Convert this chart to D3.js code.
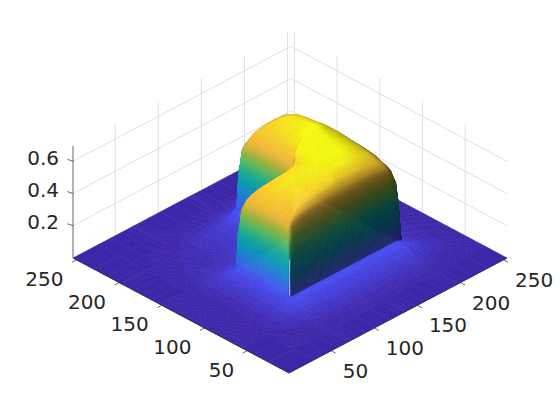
<!DOCTYPE html>
<html>
<head>
<meta charset="utf-8">
<script src="https://cdn.jsdelivr.net/npm/d3@7"></script>
<style>
html, body { margin: 0; padding: 0; background: #fff; }
text { font-family: "DejaVu Sans", sans-serif; font-size: 20px; fill: #262626; }
</style>
</head>
<body>
<svg id="plot" width="560" height="420"></svg>
<script>
// tick labels
var xyTicks = [50, 100, 150, 200, 250];
var zTicks = [0.2, 0.4, 0.6];

// grid nodes of the surface, closer together where the walls are
var xNodes = [1,30,45,57,65,69, 70,71,73,76,81,90,102,118,130,135, 136,137,139,142,148,158,170,182,189,193,196,197,198, 199,204,215,232,254];
var yNodes = [1,25,42,55,64,69,70,71,73,76,81,90,102,116,126,129,131,132,133,134,136,139,144,152,162,172,182,190,195,197,198,199,204,214,230,254];

// heights, one row per yNodes entry, multiplied by zUnit below
var zRows = [
[0,0,0,0,0,0, 0,0,0,0,0,0,0,0,0,0, 0,0,0,0,0,0,0,0,0,0,0,0,0, 0,0,0,0,0],
[0,0,0,0,0,0, 0,0,0,0,0,0,0,0,0,0, 0,0,0,0,0,0,0,0,0,0,0,0,0, 0,0,0,0,0],
[0,0,0.5,1,1.5,2, 2,2,2,2,2,2,2.5,2.5,2.5,2.5, 2.5,2.5,2.5,2.5,2.5,2.5,2.5,2.5,2.5,2.5,2,2,2, 2,1.5,1,0.5,0],
[0,0,1.5,3,4,4.5, 4.5,4.5,4.5,4.5,4.5,4.5,5,5,5,5, 5,5,5,5,5,5,5,5,5,4.5,4.5,4.5,4.5, 4,3.5,2.5,1,0],
[0,0.5,2,4,6,7, 7,7,7,7,7,7,7,7,7,7, 7,7,7,7,7,7,7,7,7,7,7,6.5,6.5, 6,5,3,1,0],
[0,0.5,2,4,6.5,8, 9,8.5,8.5,8.5,8.5,8.5,8.5,8.5,8.5,8.5, 8.5,8.5,8.5,8.5,8.5,8.5,8.5,8.5,8.5,8.5,8,7.5,7.5, 7,5.5,3,1,0],
[0,0.5,2,4,6.5,8, 19,22,22,22,22,22,22,22,22,22, 22,22,22,22,22,22,22,22,22,22,21,20,18, 6,4.5,2.5,1,0],
[0,0.5,2,4,6.5,8, 22,33,36,36,36,36,36,36,36,36, 36,36,36,36,36,36,36,36,36,36,35,32,20, 6,4.5,2.5,1,0],
[0,0.5,2,4,6.5,8, 22,36,46,48,49,50,50,50,50,50, 50,50,50,50,50,50,50,49.5,49,48,44,35,21, 6,4.5,2.5,1,0],
[0,0.5,2,4,6.5,8, 22,36,48,52,53.5,54.8,55.5,56,56,56, 56,56,56,56,56,56,55.5,55,53.5,51.5,45,35.5,22, 6,4.5,2.5,1,0],
[0,0.5,2,4,6.5,8, 22,36,49,53.5,56,57.8,58.8,59.5,60,60, 60,60,60,60,60,60,59.5,58,56,53,45.5,36,22, 6,4.5,2.5,1,0],
[0,0.5,2,4,6.5,8, 22,36,50,54.8,57.8,60.5,62.2,63,63.5,64, 64,64,64,64,64,64,63,61,58,54,46,36,22, 6,4.5,2.5,1,0],
[0,0.5,2,4,6.5,8, 22,36,50,55,58.5,62,63.7,64.5,65.5,66, 66.5,66.5,67,67,67.5,67.5,66,62.5,59,54.5,46,36,22, 6,4.5,2.5,1,0],
[0,0.5,2,4,6.5,8, 22,36,49.5,54.5,57.5,60,61.5,62,62.5,64, 66,66.5,67.5,68.5,69.5,70,67.5,64,59.5,55,46,36,22, 6,4.5,2.5,1,0],
[0,0.5,2,4,6.5,8, 22,35.5,48,52,53.5,55,55.5,56,58,62, 64.5,65.5,66.5,68,70,71,68.5,64.5,60,55,46,36,22, 6,4.5,2.5,1,0],
[0,0.5,2,4,6.5,8, 21,34.5,46,48,49,50,50,51,54,59, 62.5,64,65.5,67.5,70,71,68.5,64.5,60,55,46,36,22, 6,4.5,2.5,1,0],
[0,0.5,2,4,6.5,8, 19,32,35,36,36,36,37,39,44,52, 60,62.5,64.5,67,69.5,71,68.5,64.5,60,55,46,36,22, 6,4.5,2.5,1,0],
[0,0.5,2,4,6.5,8, 13,19,21,22,22,22,23,25,29,38, 55,60,63,66,69,71,68.5,64.5,60,55,46,36,22, 6,4.5,2.5,1,0],
[0,0.5,2,4,6.5,8, 9,9,9,9,9,9,9,9,10,12, 40,52,60,65,69,71,68.5,64.5,60,55,46,36,22, 6,4.5,2.5,1,0],
[0,0.5,2,4,6,7.5, 8.5,8.5,8.5,8.5,8.5,8.5,8.5,8.5,9.5,11.5, 28,42,54,61,67,70.5,68.5,64.5,60,55,46,36,22, 6,4.5,2.5,1,0],
[0,0.5,2,4,6,7, 7,7,7,7,7,7,7,8,9,11, 22,37,51,58,64.5,69.5,68.5,64.5,60,55,46,36,22, 6,4.5,2.5,1,0],
[0,0.5,2,3.5,5,6, 6,6,6,6,6,6,6.5,7,8.5,10, 22,36,50,57,63,68,68,64.5,60,55,46,36,22, 6,4.5,2.5,1,0],
[0,0.5,2,3.5,4,4.5, 4.5,4.5,4.5,4.5,4.5,4.5,5,6,8,10, 22,36,50,56,62,66.5,67.5,64.5,60,55,46,36,22, 6,4.5,2.5,1,0],
[0,0,1.5,2.5,3,3, 3,3,3,3,3,3.5,4,5.5,8,10, 22,36,50,56,60.5,64,65.5,63.5,59.5,55,46,36,22, 6,4.5,2.5,1,0],
[0,0,1,2,2,2, 2,2,2,2,2.5,3,3.5,5,8,10, 22,36,50,55.5,59.7,63,64,63,59,54.5,46,36,22, 6,4.5,2.5,1,0],
[0,0,1,1.5,2,2, 2,2,2,2,2,2.5,3.5,5,8,10, 22,36,49.5,55,59,62,63,62,58.5,54,46,36,22, 6,4.5,2.5,1,0],
[0,0,0.5,1,1.5,1.5, 1.5,1.5,1.5,1.5,2,2.5,3.5,5,8,10, 22,36,49,54,57.5,59.5,60.5,59.5,57,53.5,45.5,36,22, 6,4.5,2.5,1,0],
[0,0,0.5,1,1,1.5, 1.5,1.5,1.5,2,2,2.5,3.5,5,8,10, 21,35.5,48.5,53,55.5,56.5,57,56.5,55,52,45.5,35.5,21, 6,4.5,2.5,1,0],
[0,0,0.5,1,1,1.5, 1.5,1.5,1.5,2,2,2.5,3.5,5,8,9.5, 21,35,46,48,49,49.5,49.7,49.5,49,48,44,35,21, 6,4.5,2.5,1,0],
[0,0,0.5,1,1,1.5, 1.5,1.5,1.5,2,2,2.5,3.5,5,8,9.5, 19,32,35,36,36,36,36,36,36,36,35,32,19, 6,4.5,2.5,1,0],
[0,0,0.5,1,1,1.5, 1.5,1.5,1.5,2,2,2.5,3.5,5,8,9.5, 13,19,21,22,22,22,22,22,22,22,21,19,13, 6,4.5,2.5,1,0],
[0,0,0,0.5,1,1, 1,1,1.5,1.5,2,2.5,3,4,6,7, 6,6,6,6,6,6,6,6,6,6,6,6,5, 5,4,2,0.5,0],
[0,0,0,0.5,0.5,1, 1,1,1,1,1.5,2,2,3,4,4.5, 4,4,4,4,4,4,4,4,4,4,4,4,3.5, 3,3,2,0.5,0],
[0,0,0,0,0,0, 0,0,0,0.5,0.5,1,1,1,2,2, 2,2,2,2,2,2,2,2,2,2,2,2,1.5, 1,1,1,0,0],
[0,0,0,0,0,0, 0,0,0,0,0,0,0,0,0,0, 0,0,0,0,0,0,0,0,0,0,0,0,0, 0,0,0,0,0],
[0,0,0,0,0,0, 0,0,0,0,0,0,0,0,0,0, 0,0,0,0,0,0,0,0,0,0,0,0,0, 0,0,0,0,0]
];
var zUnit = 0.0098;

// colormap
var parulaStops = [0, 0.1, 0.2, 0.3, 0.4, 0.5, 0.6, 0.7, 0.8, 0.9, 1];
var parulaColors = ["#3e26a8", "#4747eb", "#3e6ffd", "#1f96e6", "#0eafc8", "#22bfa2", "#62cb6c", "#b8be3c", "#f7ba3d", "#fbd22f", "#f9fb15"];

var lims = [1, 254];
var zMax = 0.695;
var colorMax = 0.65;

// oblique view: two scales per ground axis plus one for height
var xAcross = d3.scaleLinear().domain(lims).range([0, 218]);
var xRise = d3.scaleLinear().domain(lims).range([0, 115]);
var yAcross = d3.scaleLinear().domain(lims).range([0, -216]);
var yRise = d3.scaleLinear().domain(lims).range([0, 115]);
var zRise = d3.scaleLinear().domain([0, zMax]).range([0, 112]);

function project(x, y, z) {
    return [289 + xAcross(x) + yAcross(y), 373 - xRise(x) - yRise(y) - zRise(z)];
}

var ramp = d3.scaleLinear().domain(parulaStops).range(parulaColors).interpolate(d3.interpolateRgb);
var colorLevels = d3.scaleQuantize().domain([0, colorMax]).range(d3.range(64).map(function(i) { return d3.rgb(ramp(i / 63)); }));

var svg = d3.select("#plot");
var plot = svg.append("g");

// back walls
var grid = plot.append("g").attr("stroke", "#dddddd").attr("stroke-width", 0.9).attr("fill", "none");
function gridLine(a, b) {
    grid.append("line").attr("x1", a[0]).attr("y1", a[1]).attr("x2", b[0]).attr("y2", b[1]);
}
xyTicks.forEach(function(t) {
    gridLine(project(t, 254, 0), project(t, 254, zMax));
    gridLine(project(254, t, 0), project(254, t, zMax));
});
zTicks.forEach(function(t) {
    gridLine(project(1, 254, t), project(254, 254, t));
    gridLine(project(254, 254, t), project(254, 1, t));
});

// normals of the grid, height stretched the way the view stretches it
var zStretch = 156;
var nodeGradX = zRows.map(function(row) {
    return row.map(function(v, i) {
        var a = Math.max(i - 1, 0), b = Math.min(i + 1, row.length - 1);
        return (row[b] - row[a]) * zUnit * zStretch / (xNodes[b] - xNodes[a]);
    });
});
var nodeGradY = zRows.map(function(row, j) {
    return row.map(function(v, i) {
        var a = Math.max(j - 1, 0), b = Math.min(j + 1, zRows.length - 1);
        return (zRows[b][i] - zRows[a][i]) * zUnit * zStretch / (yNodes[b] - yNodes[a]);
    });
});

var light = [-0.55, 0.03, 0.83];
var ambient = 0.33, diffuse = 0.95;

function blend(m, i, j, u, v) {
    return (1 - v) * ((1 - u) * m[j][i] + u * m[j][i + 1]) + v * ((1 - u) * m[j + 1][i] + u * m[j + 1][i + 1]);
}

function shade(z, gx, gy) {
    var len = Math.sqrt(gx * gx + gy * gy + 1);
    var dot = (-gx * light[0] - gy * light[1] + light[2]) / len;
    var k = Math.min(1, ambient + diffuse * Math.max(0, dot));
    var c = colorLevels(z);
    return d3.rgb(c.r * k, c.g * k, c.b * k).formatHex();
}

// surface pieces, far corner first so nearer ones paint over
var pieces = [];
for (let j = yNodes.length - 2; j >= 0; j--) {
    for (let i = xNodes.length - 2; i >= 0; i--) {
        let corners = [zRows[j][i], zRows[j][i + 1], zRows[j + 1][i], zRows[j + 1][i + 1]];
        let range = d3.max(corners) - d3.min(corners);
        let x0 = xNodes[i], x1 = xNodes[i + 1], y0 = yNodes[j], y1 = yNodes[j + 1];
        let step = range <= 2 ? 3 : 2.5;
        let span = function(a, b) {
            let p = project(a[0], a[1], a[2] * zUnit), q = project(b[0], b[1], b[2] * zUnit);
            return Math.max(Math.abs(p[0] - q[0]), Math.abs(p[1] - q[1]));
        };
        let nu = Math.ceil(Math.max(span([x0, y0, corners[0]], [x1, y0, corners[1]]), span([x0, y1, corners[2]], [x1, y1, corners[3]])) / step);
        let nv = Math.ceil(Math.max(span([x0, y0, corners[0]], [x0, y1, corners[2]]), span([x1, y0, corners[1]], [x1, y1, corners[3]])) / step);
        if (range === 0) { nu = 1; nv = 1; }
        nu = Math.max(1, nu); nv = Math.max(1, nv);
        // the low floor around the block keeps flat light, only its colour bands show
        let lowFloor = d3.max(corners) <= 9;
        for (let b = nv - 1; b >= 0; b--) {
            for (let a = nu - 1; a >= 0; a--) {
                let pts = [[a, b], [a + 1, b], [a + 1, b + 1], [a, b + 1]].map(function(s) {
                    let u = s[0] / nu, v = s[1] / nv;
                    return project(x0 + u * (x1 - x0), y0 + v * (y1 - y0), blend(zRows, i, j, u, v) * zUnit);
                });
                let uc = (a + 0.5) / nu, vc = (b + 0.5) / nv;
                pieces.push({
                    pts: pts,
                    color: shade(blend(zRows, i, j, uc, vc) * zUnit,
                        lowFloor ? 0 : blend(nodeGradX, i, j, uc, vc),
                        lowFloor ? 0 : blend(nodeGradY, i, j, uc, vc))
                });
            }
        }
    }
}

var quad = d3.line();
plot.append("g").attr("stroke-width", 0.6).attr("stroke-linejoin", "round")
    .selectAll("path")
    .data(pieces)
    .join("path")
    .attr("d", function(d) { return quad(d.pts) + "Z"; })
    .attr("fill", function(d) { return d.color; })
    .attr("stroke", function(d) { return d.color; });

// pale seam up the front corner
var seam = project(70, 70, 0.09), seamTop = project(70, 70, 0.19);
plot.append("line").attr("x1", seam[0]).attr("y1", seam[1]).attr("x2", seamTop[0]).attr("y2", seamTop[1] - 20)
    .attr("stroke", "#d5ddf5").attr("stroke-width", 1).attr("opacity", 0.7);

// axes
var axes = plot.append("g").attr("stroke", "#262626").attr("stroke-width", 0.7).attr("fill", "none");
function axisLine(a, b) {
    axes.append("line").attr("x1", a[0]).attr("y1", a[1]).attr("x2", b[0]).attr("y2", b[1]);
}
axisLine(project(1, 254, 0), project(1, 254, zMax));
axisLine(project(1, 1, 0), project(1, 254, 0));
axisLine(project(1, 1, 0), project(254, 1, 0));

var labels = plot.append("g");
xyTicks.forEach(function(t) {
    var p = project(1, t, 0);
    axisLine(p, [p[0] - 4.5, p[1] + 2.4]);
    labels.append("text").attr("x", p[0] - 13).attr("y", p[1] + 26).attr("text-anchor", "end").text(t);
    var q = project(t, 1, 0);
    axisLine(q, [q[0] + 4.5, q[1] + 2.4]);
    labels.append("text").attr("x", q[0] + 11.5).attr("y", q[1] + 27).attr("text-anchor", "start").text(t);
});
zTicks.forEach(function(t) {
    var p = project(1, 254, t);
    axisLine(p, [p[0] - 5.5, p[1] - 2]);
    labels.append("text").attr("x", p[0] - 14).attr("y", p[1] + 3.3).attr("text-anchor", "end").text(t.toFixed(1));
});
</script>
</body>
</html>
